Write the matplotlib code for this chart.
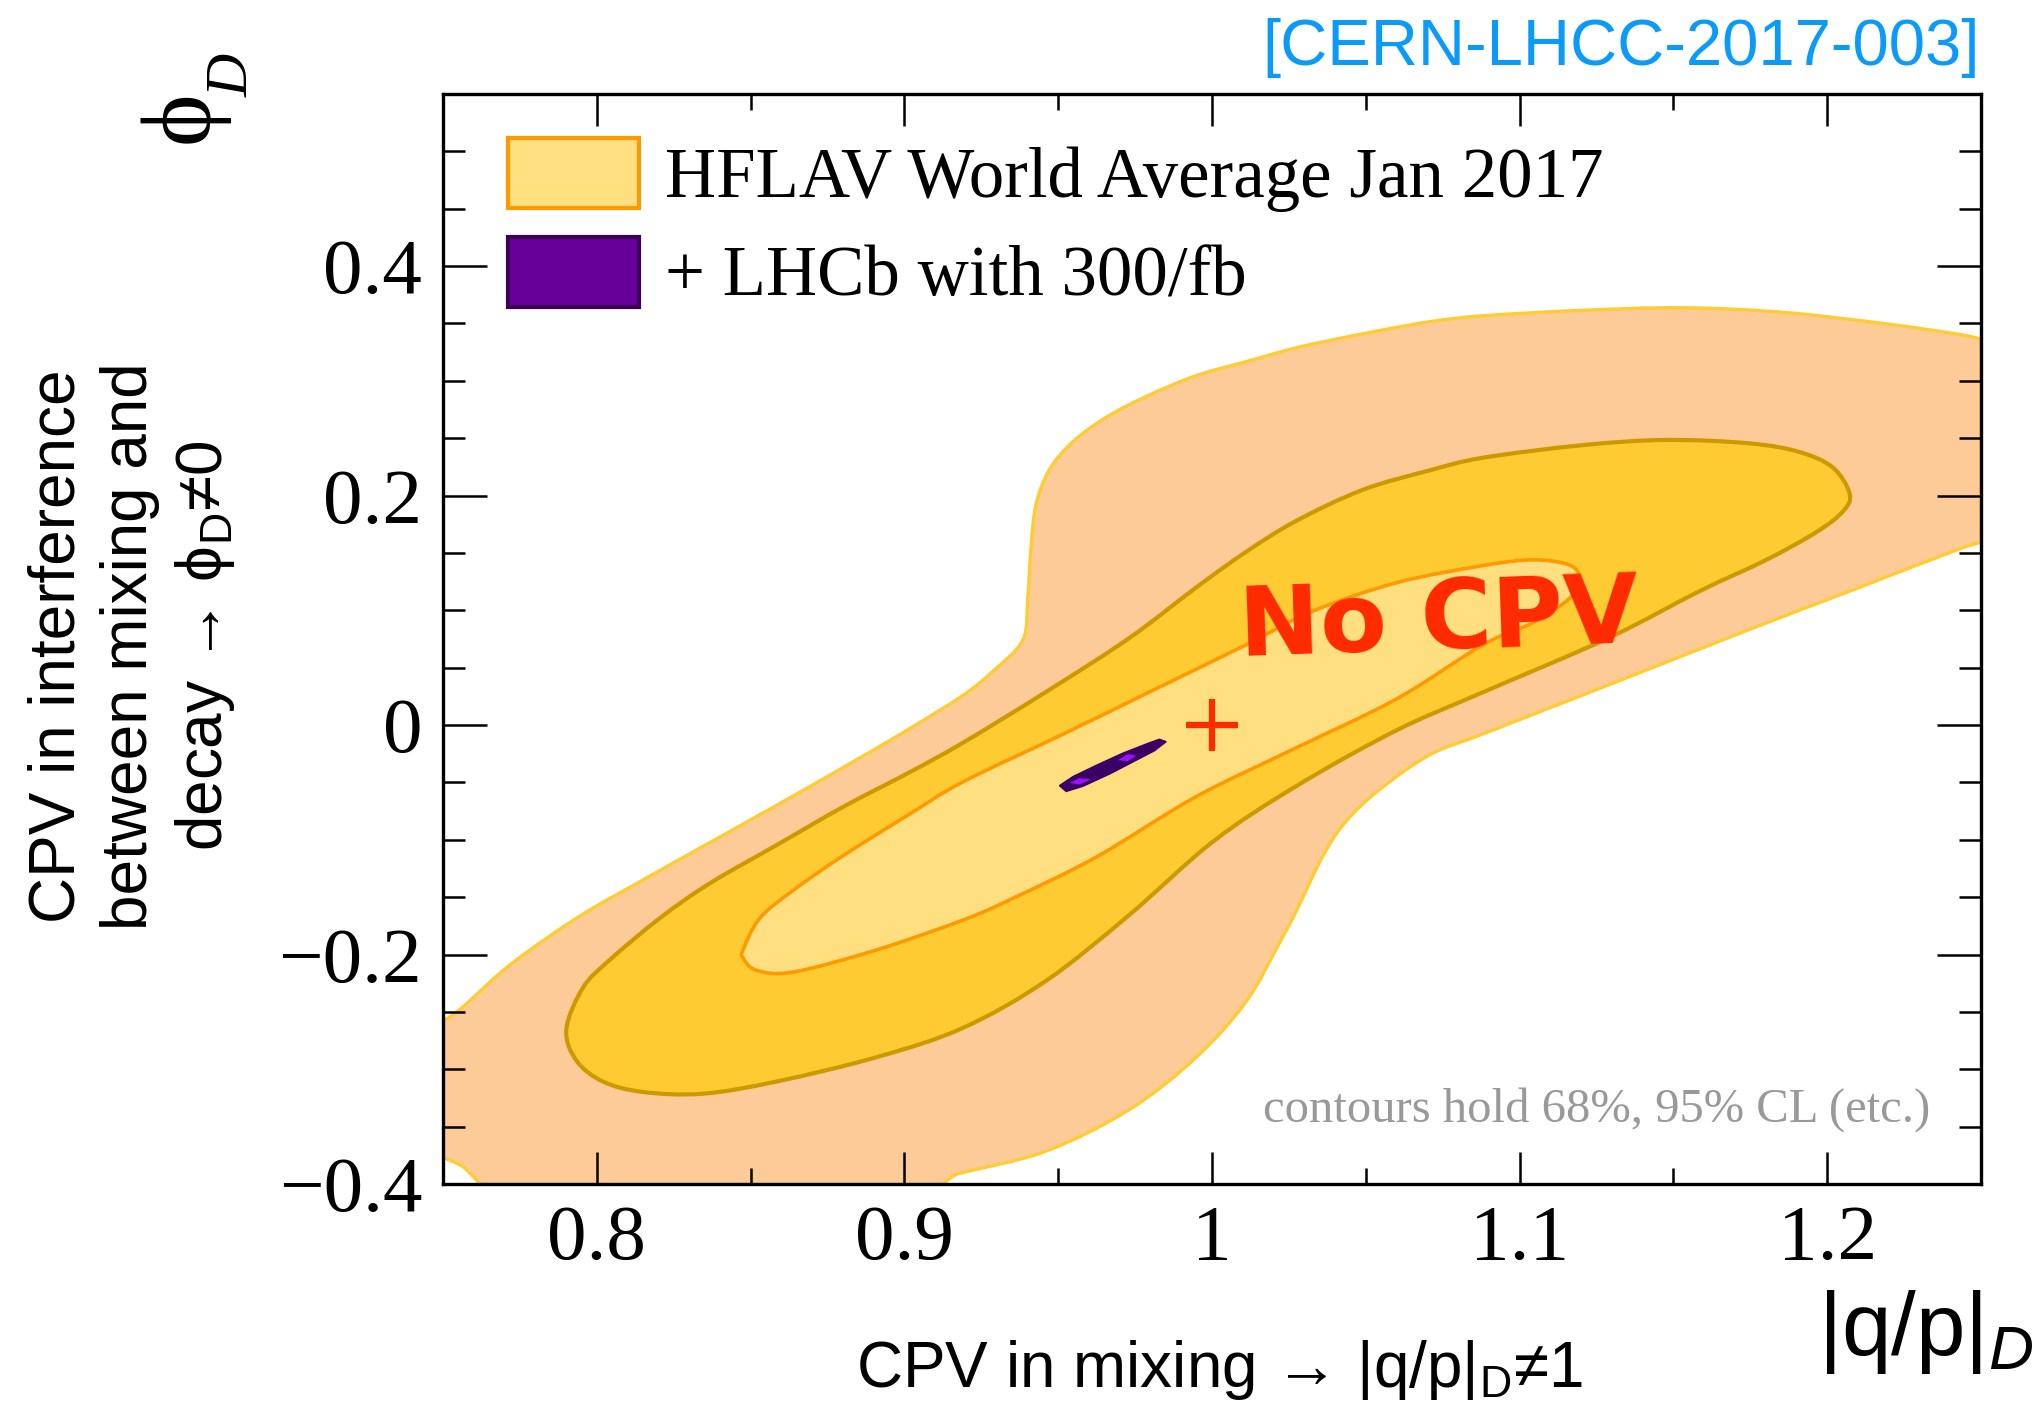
import matplotlib
matplotlib.use("Agg")
import matplotlib.pyplot as plt
from matplotlib.patches import Patch, PathPatch
from matplotlib.path import Path
from matplotlib.ticker import MultipleLocator

plt.rcParams['font.family'] = ['Liberation Serif', 'DejaVu Serif']
plt.rcParams['mathtext.fontset'] = 'custom'
plt.rcParams['mathtext.rm'] = 'Liberation Sans'
plt.rcParams['mathtext.it'] = 'Liberation Sans:italic'

SANS = ['Liberation Sans', 'DejaVu Sans']

XMIN, XMAX, YMIN, YMAX = 0.75, 1.25, -0.4, 0.55

# HFLAV Jan 2017 contours in the (|q/p|, phi) plane
outer_x = [0.750, 0.7565, 0.7717, 0.7934, 0.8150, 0.8367, 0.8584, 0.8801, 0.9018,
           0.9191, 0.9288, 0.9385, 0.9401, 0.9412, 0.9428, 0.9472, 0.9548, 0.9656,
           0.9786, 0.9949, 1.0111, 1.0274, 1.0490, 1.0708, 1.0881, 1.1206, 1.1531,
           1.1857, 1.2182, 1.2420, 1.2500, 1.2500, 1.2420, 1.2073, 1.1748, 1.1315,
           1.0881, 1.0708, 1.0545, 1.0437, 1.0361, 1.0274, 1.0220, 1.0111, 0.9949,
           0.9732, 0.9461, 0.9190, 0.9159, 0.9126, 0.7620, 0.7565, 0.7500]
outer_y = [-0.258, -0.2456, -0.2092, -0.1683, -0.1350, -0.1025, -0.0700, -0.0370, -0.0030,
           0.0260, 0.0470, 0.0741, 0.1107, 0.1561, 0.1925, 0.2228, 0.2470, 0.2682,
           0.2864, 0.3046, 0.3167, 0.3288, 0.3410, 0.3515, 0.3567, 0.3615, 0.3637,
           0.3597, 0.3500, 0.3409, 0.3364, 0.1590, 0.1525, 0.1167, 0.0834, 0.0377,
           -0.0077, -0.0259, -0.0562, -0.0835, -0.1138, -0.1622, -0.1895, -0.2410, -0.2895,
           -0.3350, -0.3713, -0.3900, -0.3930, -0.4000, -0.4000, -0.3850, -0.3770]

mid_x = [0.7901, 0.7955, 0.8042, 0.8205, 0.8367, 0.8584, 0.8801, 0.9018, 0.9191,
         0.9461, 0.9732, 0.9949, 1.0111, 1.0274, 1.0490, 1.0708, 1.0881, 1.1206,
         1.1477, 1.1748, 1.1911, 1.2019, 1.2073, 1.2052, 1.1965, 1.1802, 1.1585,
         1.1290, 1.0881, 1.0599, 1.0274, 1.0003, 0.9732, 0.9461, 0.9190, 0.8909,
         0.8584, 0.8345, 0.8150, 0.8020, 0.7934]
mid_y = [-0.2653, -0.2289, -0.2047, -0.1683, -0.1380, -0.1047, -0.0713, -0.0410, -0.0153,
         0.0290, 0.0760, 0.1200, 0.1510, 0.1780, 0.2050, 0.2220, 0.2330, 0.2440,
         0.2485, 0.2455, 0.2379, 0.2243, 0.2016, 0.1864, 0.1682, 0.1440, 0.1167,
         0.0760, 0.0286, -0.0047, -0.0532, -0.1016, -0.1653, -0.2228, -0.2640, -0.2895,
         -0.3107, -0.3213, -0.3198, -0.3107, -0.2925]

inner_x = [0.8476, 0.8530, 0.8638, 0.8801, 0.9018, 0.9191, 0.9515, 0.9840, 1.0111,
           1.0325, 1.0599, 1.0881, 1.1044, 1.1163, 1.1195, 1.1163, 1.1044,
           1.0881, 1.0599, 1.0274, 0.9949, 0.9624, 0.9353, 0.9190, 0.8909, 0.8638,
           0.8519, 0.8476]
inner_y = [-0.1956, -0.1683, -0.1441, -0.1138, -0.0774, -0.0494, -0.0080, 0.0345, 0.0700,
           0.0990, 0.1240, 0.1390, 0.1440, 0.1394, 0.1273, 0.1106, 0.0894,
           0.0700, 0.0226, -0.0198, -0.0623, -0.1150, -0.1510, -0.1700, -0.1960, -0.2153,
           -0.2137, -0.2031]

# LHCb 300/fb projection
lhcb_x = [0.9504, 0.9548, 0.9623, 0.9710, 0.9797, 0.9829, 0.9851, 0.9813, 0.9754,
          0.9667, 0.9580, 0.9526]
lhcb_y = [-0.0528, -0.0449, -0.0352, -0.0245, -0.0154, -0.0124, -0.0145, -0.0224, -0.0306,
          -0.0427, -0.0534, -0.0579]
lhcb_core1_x = [0.9537, 0.9569, 0.9607, 0.9569]
lhcb_core1_y = [-0.0503, -0.0464, -0.0473, -0.0519]
lhcb_core2_x = [0.9694, 0.9726, 0.9754, 0.9726]
lhcb_core2_y = [-0.0306, -0.0254, -0.0267, -0.0315]

no_cpv_point = (1.0, 0.0)

xtick_vals = [0.8, 0.9, 1.0, 1.1, 1.2]
xtick_labels = ['0.8', '0.9', '1', '1.1', '1.2']
ytick_vals = [-0.4, -0.2, 0.0, 0.2, 0.4]
ytick_labels = ['\u22120.4', '\u22120.2', '0', '0.2', '0.4']

legend_labels = ['HFLAV World Average Jan 2017', '+ LHCb with 300/fb']


def on_frame(x, y):
    return x <= XMIN or x >= XMAX or y <= YMIN


def contour_path(xs, ys):
    # closed cubic Bezier through the outline vertices (Catmull-Rom tangents),
    # vertices lying on the frame are kept as sharp corners
    n = len(xs)
    pts = list(zip(xs, ys))

    def tangent(i):
        if on_frame(*pts[i % n]):
            return (0.0, 0.0)
        a, b = pts[(i - 1) % n], pts[(i + 1) % n]
        return ((b[0] - a[0]) / 6.0, (b[1] - a[1]) / 6.0)

    verts = [pts[0]]
    codes = [Path.MOVETO]
    for i in range(n):
        p1, p2 = pts[i], pts[(i + 1) % n]
        t1, t2 = tangent(i), tangent(i + 1)
        verts += [(p1[0] + t1[0], p1[1] + t1[1]), (p2[0] - t2[0], p2[1] - t2[1]), p2]
        codes += [Path.CURVE4] * 3
    verts.append(pts[0])
    codes.append(Path.CLOSEPOLY)
    return Path(verts, codes)


fig = plt.figure(figsize=(20.44, 14.02), dpi=100)
ax = fig.add_axes([0.21673, 0.15549, 0.75245, 0.77746])

ax.add_patch(PathPatch(contour_path(outer_x, outer_y), facecolor='#FDCB98',
                       edgecolor='#FFCC33', linewidth=2.4, zorder=1))
ax.add_patch(PathPatch(contour_path(mid_x, mid_y), facecolor='#FFCB33',
                       edgecolor='#CC9900', linewidth=3.0, zorder=1.1))
ax.add_patch(PathPatch(contour_path(inner_x, inner_y), facecolor='#FFDF80',
                       edgecolor='#FF9900', linewidth=2.6, zorder=1.2))

ax.fill(lhcb_x, lhcb_y, facecolor='#3A0066', edgecolor='#3A0066', linewidth=1.0, zorder=1.3)
ax.fill(lhcb_core1_x, lhcb_core1_y, facecolor='#A010FF', edgecolor='none', zorder=1.4)
ax.fill(lhcb_core2_x, lhcb_core2_y, facecolor='#A010FF', edgecolor='none', zorder=1.4)

ax.plot([no_cpv_point[0]], [no_cpv_point[1]], marker='+', color='#FF2A00',
        markersize=38, markeredgewidth=4.5, zorder=3)
ax.text(1.0736, 0.089, 'No CPV', color='#FF2A00', fontsize=70, fontweight='bold',
        family=['DejaVu Sans'], ha='center', va='center', rotation=2, zorder=3)

ax.text(1.2334, -0.346, 'contours hold 68%, 95% CL (etc.)', color='#999999',
        fontsize=35, ha='right', va='baseline', zorder=3)

ax.set_xlim(XMIN, XMAX)
ax.set_ylim(YMIN, YMAX)
ax.set_xticks(xtick_vals)
ax.set_xticklabels(xtick_labels)
ax.set_yticks(ytick_vals)
ax.set_yticklabels(ytick_labels)
ax.xaxis.set_minor_locator(MultipleLocator(0.05))
ax.yaxis.set_minor_locator(MultipleLocator(0.05))

ax.tick_params(which='both', direction='in', top=True, right=True, width=1.8,
               labelsize=57, pad=15)
ax.tick_params(axis='x', which='major', length=23)
ax.tick_params(axis='x', which='minor', length=11.5)
ax.tick_params(axis='y', which='major', length=32)
ax.tick_params(axis='y', which='minor', length=16)
for sp in ax.spines.values():
    sp.set_linewidth(2.4)
    sp.set_zorder(4)

handles = [Patch(facecolor='#FFDF80', edgecolor='#FF9900', linewidth=3),
           Patch(facecolor='#660099', edgecolor='#3D0055', linewidth=3)]
ax.legend(handles, legend_labels, loc='upper left', bbox_to_anchor=(0.0423, 0.960),
          frameon=False, fontsize=51, handlelength=1.85, handleheight=1.15,
          handletextpad=0.36, labelspacing=0.35, borderpad=0, borderaxespad=0)

# labels around the frame
fig.text(0.9688, 0.9536, '[CERN-LHCC-2017-003]', color='#0A9BFA', fontsize=47,
         family=SANS, ha='right', va='baseline')
fig.text(0.0895, 0.9166, '\u03d5', fontsize=72, rotation=90, ha='center', va='center')
fig.text(0.1145, 0.946, 'D', fontsize=43, style='italic', rotation=90,
         ha='center', va='center')

fig.text(0.0646, 0.539,
         'CPV in interference\nbetween mixing and\ndecay \u2192 \u03d5$_\\mathrm{D}$\u22600',
         fontsize=46, family=SANS, rotation=90, ha='center', va='center',
         multialignment='center', linespacing=1.27)
fig.text(0.5964, 0.0107, 'CPV in mixing \u2192 |q/p|$_\\mathrm{D}$\u22601', fontsize=46,
         family=SANS, ha='center', va='baseline')
fig.text(0.8894, 0.0335, '|q/p|$_{\\mathit{D}}$', fontsize=64, family=SANS,
         ha='left', va='baseline')

fig.savefig('out.png', dpi=100)
